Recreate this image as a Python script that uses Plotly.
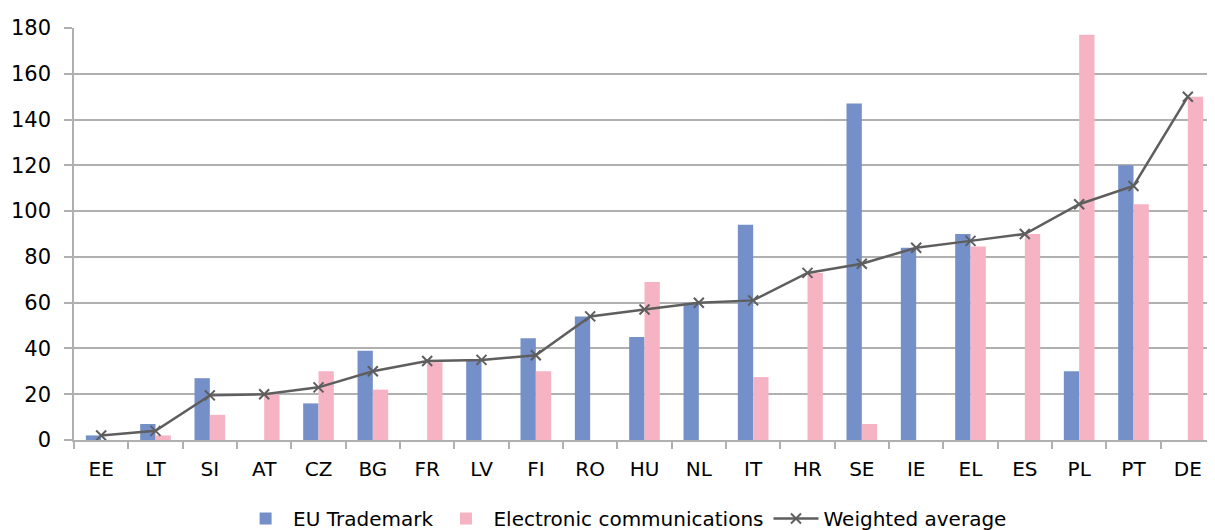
import plotly.graph_objects as go

countries = ["EE", "LT", "SI", "AT", "CZ", "BG", "FR", "LV", "FI", "RO", "HU",
             "NL", "IT", "HR", "SE", "IE", "EL", "ES", "PL", "PT", "DE"]
eu_trademark = [2, 7, 27, 0, 16, 39, 0, 35, 44.5, 54, 45,
                60, 94, 0, 147, 84, 90, 0, 30, 120, 0]
electronic_comm = [0, 2, 11, 20, 30, 22, 34, 0, 30, 0, 69,
                   0, 27.5, 73, 7, 0, 84.5, 90, 177, 103, 150]
weighted_avg = [2, 4, 19.5, 20, 23, 30, 34.5, 35, 37, 54, 57,
                60, 61, 73, 77, 84, 87, 90, 103, 111, 150]
y_ticks = [0, 20, 40, 60, 80, 100, 120, 140, 160, 180]

FONT = "DejaVu Sans"
GRID = "#B0B0B0"

fig = go.Figure()
fig.add_trace(go.Bar(x=countries, y=eu_trademark, name="EU Trademark",
                     marker=dict(color="#7590C9", line=dict(width=0))))
fig.add_trace(go.Bar(x=countries, y=electronic_comm, name="Electronic communications",
                     marker=dict(color="#F5B3C4", line=dict(width=0))))
fig.add_trace(go.Scatter(x=countries, y=weighted_avg, name="Weighted average",
                         mode="lines+markers",
                         line=dict(color="#5E5E5E", width=2.5),
                         marker=dict(symbol="x-thin", size=10,
                                     line=dict(color="#5E5E5E", width=2))))

# page has an 8px body margin, so the figure is sized/positioned to compensate
fig.update_layout(
    width=1207, height=522,
    margin=dict(l=66, r=0, t=20, b=90, autoexpand=False),
    paper_bgcolor="white", plot_bgcolor="white",
    barmode="group", bargap=0.436, bargroupgap=0,
    font=dict(family=FONT, color="#000000"),
    showlegend=True,
    legend=dict(orientation="h", x=0.483, xanchor="center",
                yref="container", y=0.022, yanchor="middle",
                font=dict(family=FONT, size=20), itemwidth=45,
                traceorder="normal", bgcolor="rgba(0,0,0,0)"),
)
fig.update_xaxes(type="category", range=[-0.5, len(countries) - 0.5],
                 automargin=False, showgrid=False, showline=True, linecolor=GRID,
                 linewidth=1.5, ticks="outside", tickson="boundaries", ticklen=7,
                 tickcolor=GRID, tickwidth=1.5, tickfont=dict(size=20, family=FONT),
                 ticklabelstandoff=10, fixedrange=True)
fig.update_yaxes(range=[0, 180], tickvals=y_ticks, automargin=False,
                 showgrid=True, gridcolor=GRID,
                 gridwidth=1.5, showline=True, linecolor=GRID, linewidth=1.5,
                 ticks="outside", ticklen=8, tickcolor=GRID, tickwidth=1.5,
                 tickfont=dict(size=21, family=FONT), zeroline=False,
                 ticklabelstandoff=9)

fig.write_html("out.html")
